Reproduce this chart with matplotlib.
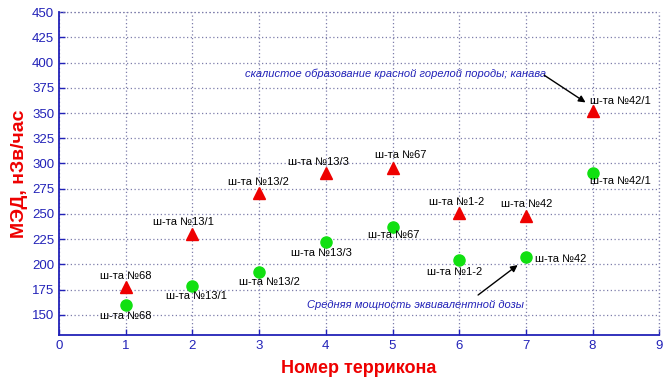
import matplotlib
matplotlib.use("Agg")
import matplotlib.pyplot as plt
import numpy as np

plt.rcParams["font.family"] = ["Liberation Sans", "DejaVu Sans"]

# data
terrikon = [1, 2, 3, 4, 5, 6, 7, 8]
med_max = [178, 230, 271, 291, 296, 251, 248, 352]
med_avg = [160, 179, 192, 222, 237, 204, 207, 291]
labels = ["ш-та №68", "ш-та №13/1", "ш-та №13/2", "ш-та №13/3",
          "ш-та №67", "ш-та №1-2", "ш-та №42", "ш-та №42/1"]
yticks = [150, 175, 200, 225, 250, 275, 300, 325, 350, 375, 400, 425, 450]
xticks = [0, 1, 2, 3, 4, 5, 6, 7, 8, 9]

note_top = "скалистое образование красной горелой породы; канава"
note_bottom = "Средняя мощность эквивалентной дозы"

# label offsets in pixels (dx, dy, ha)
off_max = [(0, 11, "center"), (-9, 12, "center"), (-1, 11, "center"), (-7, 11, "center"),
           (8, 13, "center"), (-3, 11, "center"), (1, 12, "center"), (-3, 10, "left")]
off_avg = [(0, -11, "center"), (4, -10, "center"), (10, -10, "center"), (-4, -11, "center"),
           (1, -8, "center"), (-5, -12, "center"), (9, -2, "left"), (-3, -8, "left")]

blue = "#2222b8"
red = "#ee0000"
green = "#11e011"
gridc = "#7d7daa"

fig = plt.figure(figsize=(6.72, 3.79), dpi=100)
ax = fig.add_axes([0.088, 0.116, 0.893, 0.852])

ax.plot(terrikon, med_max, linestyle="none", marker="^", color=red, markersize=9)
ax.plot(terrikon, med_avg, linestyle="none", marker="o", color=green, markersize=8)

for j in range(len(terrikon)):
    dx, dy, ha = off_max[j]
    ax.annotate(labels[j], (terrikon[j], med_max[j]), xytext=(dx, dy), textcoords="offset pixels",
                ha=ha, va="center", fontsize=8, color="black")
    dx, dy, ha = off_avg[j]
    ax.annotate(labels[j], (terrikon[j], med_avg[j]), xytext=(dx, dy), textcoords="offset pixels",
                ha=ha, va="center", fontsize=8, color="black")

# notes with arrows
ax.text(5.04, 389, note_top, ha="center", va="center", fontsize=8, style="italic", color=blue)
ax.annotate("", xy=(7.93, 359), xytext=(7.24, 389),
            arrowprops=dict(arrowstyle="-|>", color="k", lw=1, mutation_scale=10))
ax.text(5.34, 160, note_bottom, ha="center", va="center", fontsize=8, style="italic", color=blue)
ax.annotate("", xy=(6.91, 201), xytext=(6.25, 168),
            arrowprops=dict(arrowstyle="-|>", color="k", lw=1, mutation_scale=10))

ax.set_xlim([0, 9])
ax.set_ylim([130, 450])
ax.set_xticks(xticks)
ax.set_yticks(yticks)
ax.tick_params(direction="in", colors=blue, labelsize=9.5, length=4, width=1)
ax.tick_params(top=False, right=False)
for side in ["top", "right"]:
    ax.spines[side].set_visible(False)
for side in ["left", "bottom"]:
    ax.spines[side].set_color(blue)
    ax.spines[side].set_linewidth(1.3)

ax.grid(True, color=gridc, linestyle=(0, (1, 2)), linewidth=0.9)
ax.axhline(450, color=gridc, linestyle=(0, (1, 2)), linewidth=0.9, clip_on=False)
ax.axvline(9, color=gridc, linestyle=(0, (1, 2)), linewidth=0.9, clip_on=False)

ax.set_xlabel("Номер террикона", fontsize=13, fontweight="bold", color=red, labelpad=6)
ax.set_ylabel("МЭД, нЗв/час", fontsize=14, fontweight="bold", color=red, labelpad=3)

fig.savefig("out.png", dpi=100)
